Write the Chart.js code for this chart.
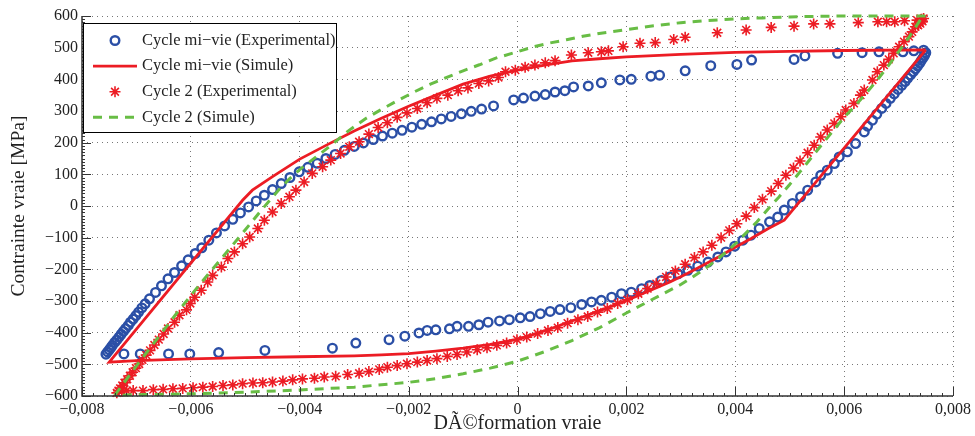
<!DOCTYPE html>
<html>
<head>
<meta charset="utf-8">
<script src="https://cdn.jsdelivr.net/npm/chart.js@4.4.0/dist/chart.umd.min.js"></script>
<style>
  html, body { margin: 0; padding: 0; background: #fff; }
  canvas { display: block; }
</style>
</head>
<body>
<canvas id="chart" width="975" height="436"></canvas>
<script>
// mid-life cycle, experimental (circles)
const blueX = [-0.00756,-0.00753,-0.0075,-0.00747,-0.00744,-0.0074,-0.00736,-0.00732,-0.00728,-0.00724,-0.0072,-0.00715,-0.00711,-0.00706,-0.00701,-0.00696,-0.0069,-0.00684,
  -0.00676,-0.00665,-0.00654,-0.00642,-0.0063,-0.00617,-0.00605,-0.00592,-0.0058,-0.00567,-0.00553,-0.00538,-0.00523,-0.00509,-0.00494,-0.0048,-0.00465,-0.0045,-0.00434,-0.00418,-0.00401,-0.00385,-0.00368,-0.00352,-0.00335,-0.00318,-0.003,-0.00283,-0.00265,-0.00248,-0.0023,-0.00212,-0.00194,-0.00176,-0.00158,-0.0014,-0.00122,-0.00103,-0.00085,-0.00066,-0.00044,
  -0.00007,0.00011,0.00032,0.00051,0.00069,0.00087,0.00103,0.0013,0.00154,0.00188,0.00209,0.00245,0.00261,0.00308,0.00355,0.00403,0.0043,0.00508,0.00528,0.00588,0.00633,0.00664,0.00708,0.00728,0.00746,
  0.0075,0.00748,0.00745,0.00742,0.00739,0.00735,0.00731,0.00727,0.00722,0.00717,0.00712,0.00706,0.00699,0.00692,0.00685,0.00677,0.00669,0.0066,0.00652,0.00643,
  0.00637,0.00621,0.00606,0.00591,0.00582,0.00569,0.00557,0.00548,0.00533,0.0052,0.00505,0.0049,0.00478,0.00463,0.00444,0.00429,0.00414,0.00399,0.00383,0.00368,0.0035,0.00331,0.00313,0.00295,0.0028,0.00264,
  0.00243,0.00228,0.00209,0.00191,0.00173,0.00154,0.00136,0.00118,0.00098,0.00078,0.0006,0.00042,0.00023,0.00005,-0.00015,-0.00033,-0.00054,-0.00071,-0.0009,-0.00111,-0.00125,-0.0015,-0.00166,-0.00181,-0.00207,-0.00236,
  -0.00297,-0.0034,-0.00464,-0.00549,-0.00602,-0.00641,-0.00693,-0.00723];
const blueY = [-468,-461,-454,-447,-440,-431,-423,-414,-405,-396,-387,-377,-367,-357,-346,-335,-322,-309,
  -293,-273,-252,-230,-210,-189,-170,-150,-132,-108,-85,-63,-42,-22,-3,16,34,52,71,90,108,122,135,150,163,176,188,199,210,221,230,239,249,258,266,275,283,291,299,306,316,
  335,341,347,352,360,364,376,379,389,398,400,410,413,427,443,447,461,463,474,482,484,487,487,490,492,
  484,476,468,460,451,442,433,424,414,404,393,381,368,354,340,324,308,290,271,252,
  234,197,171,155,134,113,97,76,50,29,8,-13,-35,-50,-71,-92,-108,-127,-145,-161,-177,-190,-203,-214,-224,-235,
  -251,-261,-272,-277,-288,-298,-303,-311,-321,-327,-333,-340,-349,-353,-359,-363,-367,-375,-380,-380,-388,-391,-393,-401,-411,-422,
  -433,-449,-456,-463,-467,-467,-467,-467];

// mid-life cycle, simulated (solid line)
const midSimX = [0.0075,0.0049,0.0046,0.0043,0.004,0.0037,0.0034,0.0031,0.0028,0.0025,0.0022,0.0019,0.0016,0.0013,0.001,0.0007,0.0004,0,-0.0005,-0.001,-0.0015,-0.002,-0.0025,-0.003,-0.004,-0.005,-0.006,-0.007,-0.0075,
  -0.00505,-0.00487,-0.0045,-0.004,-0.0035,-0.003,-0.0025,-0.002,-0.0015,-0.001,-0.0005,0,0.0005,0.001,0.0015,0.002,0.003,0.004,0.005,0.006,0.0075];
const midSimY = [493,-45,-72,-102,-130,-160,-188,-215,-240,-262,-284,-305,-325,-344,-363,-382,-400,-421,-437,-449,-458,-466,-470,-473,-476,-479,-483,-488,-493,
  18,50,93,148,193,237,277,315,350,385,410,429,445,458,465,471,479,485,488,491,493];

// cycle 2, experimental (stars)
const c2X = [-0.00736,-0.00733,-0.0073,-0.00726,-0.00722,-0.00717,-0.00712,-0.00707,-0.00701,-0.00695,-0.00689,-0.00682,-0.00675,-0.00667,-0.00659,-0.0065,-0.00642,-0.0063,-0.00621,-0.00608,-0.00601,-0.00593,-0.00581,-0.00569,-0.0056,-0.00544,-0.00532,-0.0052,-0.00505,-0.00492,-0.00477,-0.00465,-0.0045,-0.00434,-0.00419,-0.00407,-0.00392,-0.00377,-0.00358,-0.00343,-0.00325,-0.00309,-0.00291,-0.00273,-0.00256,-0.00239,-0.00221,-0.00203,-0.00184,-0.00166,-0.00148,-0.00128,-0.00109,-0.00091,-0.00071,-0.00053,-0.00035,-0.00022,-0.00004,0.00014,0.00032,0.00051,0.00069,0.00099,0.0013,0.00154,0.00167,0.00194,0.00225,0.00253,0.00287,0.00308,0.00367,0.0042,0.00466,0.00508,0.00544,0.00574,0.00626,0.00662,0.00678,0.00693,0.00711,0.00734,0.00742,0.00746,
  0.00744,0.0074,0.00736,0.00731,0.00725,0.00719,0.0071,0.00701,0.00691,0.00682,0.00673,0.00661,0.00652,0.00637,0.0063,0.00618,0.00603,0.00594,0.00582,0.00569,0.00557,0.00545,0.00533,0.00519,0.00507,0.00493,0.00479,0.00466,0.0045,0.00435,0.0042,0.00403,0.00389,0.00374,0.00357,0.00341,0.00325,0.00308,0.0029,0.00273,0.00255,0.00239,0.00222,0.00202,0.00184,0.00165,0.00147,0.00129,0.00111,0.00092,0.00074,0.00056,0.00037,0.00017,-0.00001,-0.0002,-0.00038,-0.00056,-0.00074,-0.00093,-0.00111,-0.00129,-0.00148,-0.00166,-0.00184,-0.00203,-0.00221,-0.00239,-0.00254,-0.00273,-0.00291,-0.00312,-0.00334,-0.00355,-0.00373,-0.00395,-0.00413,-0.00431,-0.0045,-0.00468,-0.00486,-0.00505,-0.00523,-0.00541,-0.0056,-0.00578,-0.00596,-0.00615,-0.00633,-0.00651,-0.00669,-0.00688,-0.00706,-0.00718,-0.00727];
const c2Y = [-590,-583,-576,-567,-558,-547,-536,-525,-512,-499,-486,-471,-456,-439,-422,-404,-387,-367,-345,-328,-308,-288,-266,-240,-219,-193,-166,-145,-119,-98,-71,-45,-19,8,29,50,76,103,124,145,166,187,203,227,248,263,280,294,308,326,340,350,364,373,387,395,406,424,429,438,445,452,459,477,484,487,490,503,514,516,526,533,547,556,564,568,575,575,579,582,582,582,585,587,590,592,
  583,576,571,566,550,535,519,503,482,463,445,424,398,366,350,324,303,282,261,240,218,192,168,142,120,97,71,47,21,-5,-32,-56,-77,-100,-124,-145,-163,-184,-205,-224,-245,-261,-277,-296,-308,-324,-335,-349,-359,-370,-384,-393,-403,-414,-422,-433,-440,-448,-454,-461,-469,-475,-482,-488,-493,-498,-504,-509,-516,-523,-528,-532,-538,-540,-544,-546,-549,-553,-556,-558,-559,-561,-565,-567,-570,-572,-574,-576,-577,-579,-580,-583,-583,-583,-585];

// cycle 2, simulated (dashed line)
const c2SimX = [-0.0074,-0.007,-0.0066,-0.0062,-0.0058,-0.0054,-0.005,-0.0047,-0.0044,-0.0042,-0.004,-0.0037,-0.0034,-0.0031,-0.0028,-0.0025,-0.0022,-0.0019,-0.0016,-0.0013,-0.001,-0.0007,-0.0004,0,0.0003,0.0006,0.0009,0.0012,0.0015,0.002,0.0025,0.003,0.0035,0.004,0.0045,0.005,0.0055,0.006,0.0075,
  0.0074,0.0072,0.007,0.0068,0.0066,0.0064,0.0062,0.006,0.0058,0.0056,0.0054,0.0052,0.005,0.0048,0.0046,0.0044,0.0042,0.004,0.0038,0.0036,0.0034,0.0032,0.003,0.0027,0.0024,0.002,0.0015,0.001,0.0005,0,-0.0005,-0.001,-0.0015,-0.002,-0.003,-0.004,-0.005,-0.006,-0.007,-0.0074];
const c2SimY = [-598,-505,-415,-325,-240,-158,-75,-12,48,84,115,155,195,238,275,305,333,360,385,406,427,446,467,487,503,515,525,536,545,557,569,579,586,591,594,597,599,600,600,
  588,535,487,440,396,355,316,280,238,196,153,110,68,28,-10,-50,-85,-120,-150,-178,-203,-226,-248,-275,-302,-338,-385,-425,-460,-490,-512,-530,-545,-557,-572,-581,-588,-593,-596,-598];

const seriesLabels = ['Cycle mi\u2212vie (Experimental)', 'Cycle mi\u2212vie (Simule)', 'Cycle 2 (Experimental)', 'Cycle 2 (Simule)'];
const xTitle = 'DÃ©formation vraie';
const yTitle = 'Contrainte vraie [MPa]';

const BLUE = '#2b4fa6';
const RED = '#ec1c24';
const GREEN = '#68bd45';
const TEXT = '#222';
const FONT = '"Liberation Serif", "Times New Roman", serif';

const toPoints = (xs, ys) => xs.map((x, i) => ({ x: x, y: ys[i] }));

const minus = s => s.replace('-', '\u2212');

// white page behind the plot
const whiteBg = {
  id: 'whiteBg',
  beforeDraw(chart) {
    const ctx = chart.ctx;
    ctx.save();
    ctx.fillStyle = '#fff';
    ctx.fillRect(0, 0, chart.width, chart.height);
    ctx.restore();
  }
};

// matlab style axes: left + bottom line, inward major/minor ticks
const matlabAxes = {
  id: 'matlabAxes',
  afterDatasetsDraw(chart) {
    const { ctx, chartArea: a, scales: { x, y } } = chart;
    ctx.save();
    ctx.strokeStyle = '#333';
    ctx.lineWidth = 1;
    ctx.beginPath();
    for (let i = 0; i <= 80; i++) {
      const px = Math.round(x.getPixelForValue(-0.008 + i * 0.0002)) + 0.5;
      const len = i % 10 === 0 ? 9 : 3;
      ctx.moveTo(px, a.bottom);
      ctx.lineTo(px, a.bottom - len);
    }
    for (let i = 0; i <= 120; i++) {
      const py = Math.round(y.getPixelForValue(-600 + i * 10)) + 0.5;
      const len = i % 10 === 0 ? 9 : 3;
      ctx.moveTo(a.left, py);
      ctx.lineTo(a.left + len, py);
    }
    ctx.stroke();
    ctx.lineWidth = 1.5;
    ctx.beginPath();
    ctx.moveTo(a.left, a.top);
    ctx.lineTo(a.left, a.bottom);
    ctx.lineTo(a.right, a.bottom);
    ctx.stroke();
    ctx.restore();
  }
};

// boxed legend in the upper left corner of the plot
const boxLegend = {
  id: 'boxLegend',
  afterDraw(chart) {
    const ctx = chart.ctx;
    const left = 83.5, top = 23.5, w = 253, h = 109;
    ctx.save();
    ctx.fillStyle = '#fff';
    ctx.fillRect(left, top, w, h);
    ctx.strokeStyle = '#000';
    ctx.lineWidth = 1;
    ctx.strokeRect(left, top, w, h);
    ctx.font = '16.5px ' + FONT;
    ctx.textBaseline = 'middle';
    chart.data.datasets.forEach((ds, i) => {
      const cy = 40.5 + i * 25.6;
      ctx.save();
      if (ds.showLine) {
        ctx.strokeStyle = ds.borderColor;
        ctx.lineWidth = ds.borderWidth;
        ctx.setLineDash(ds.borderDash || []);
        ctx.beginPath();
        ctx.moveTo(93, cy);
        ctx.lineTo(137, cy);
        ctx.stroke();
      } else {
        ctx.strokeStyle = ds.pointBorderColor;
        ctx.fillStyle = 'rgba(0,0,0,0)';
        ctx.lineWidth = ds.pointBorderWidth;
        Chart.helpers.drawPoint(ctx, { pointStyle: ds.pointStyle, radius: ds.pointRadius, borderWidth: ds.pointBorderWidth, rotation: 0 }, 115, cy);
      }
      ctx.restore();
      ctx.fillStyle = TEXT;
      ctx.fillText(ds.label, 142, cy);
    });
    ctx.restore();
  }
};

new Chart(document.getElementById('chart'), {
  type: 'scatter',
  data: {
    datasets: [
      {
        label: seriesLabels[0],
        data: toPoints(blueX, blueY),
        showLine: false,
        pointStyle: 'circle',
        pointRadius: 4.3,
        pointBorderWidth: 2.4,
        pointBorderColor: BLUE,
        pointBackgroundColor: 'rgba(0,0,0,0)',
        borderColor: BLUE,
        clip: false,
        order: 3
      },
      {
        label: seriesLabels[1],
        data: toPoints(midSimX, midSimY),
        showLine: true,
        borderColor: RED,
        borderWidth: 2.8,
        pointRadius: 0,
        tension: 0,
        fill: false,
        clip: false,
        order: 2
      },
      {
        label: seriesLabels[2],
        data: toPoints(c2X, c2Y),
        showLine: false,
        pointStyle: 'star',
        pointRadius: 5.5,
        pointBorderWidth: 1.6,
        pointBorderColor: RED,
        pointBackgroundColor: RED,
        borderColor: RED,
        clip: false,
        order: 1
      },
      {
        label: seriesLabels[3],
        data: toPoints(c2SimX, c2SimY),
        showLine: true,
        borderColor: GREEN,
        borderWidth: 3,
        borderDash: [9, 7],
        pointRadius: 0,
        tension: 0,
        fill: false,
        clip: false,
        order: 0
      }
    ]
  },
  options: {
    responsive: false,
    devicePixelRatio: 1,
    animation: false,
    events: [],
    layout: { padding: { left: 0, top: 16, right: 19, bottom: 0 } },
    plugins: {
      legend: { display: false },
      tooltip: { enabled: false }
    },
    scales: {
      x: {
        type: 'linear',
        min: -0.008,
        max: 0.008,
        afterFit(scale) { scale.height = 40; },
        ticks: {
          stepSize: 0.002,
          padding: 4,
          color: TEXT,
          font: { family: FONT, size: 16 },
          maxRotation: 0,
          callback: v => Math.abs(v) < 1e-9 ? '0' : minus(v.toFixed(3).replace('.', ','))
        },
        grid: { color: '#777', lineWidth: 1, drawTicks: false },
        border: { display: false, dash: [1, 4] },
        title: { display: true, text: xTitle, color: TEXT, font: { family: FONT, size: 20 }, padding: { top: 0, bottom: 0 } }
      },
      y: {
        type: 'linear',
        min: -600,
        max: 600,
        afterFit(scale) { scale.width = 82; },
        ticks: {
          stepSize: 100,
          padding: 4,
          color: TEXT,
          font: { family: FONT, size: 16 },
          callback: v => minus(String(Math.round(v)))
        },
        grid: { color: '#777', lineWidth: 1, drawTicks: false },
        border: { display: false, dash: [1, 4] },
        title: { display: true, text: yTitle, color: TEXT, font: { family: FONT, size: 19.5 }, padding: { top: 7, bottom: 0 } }
      }
    }
  },
  plugins: [whiteBg, matlabAxes, boxLegend]
});
</script>
</body>
</html>
